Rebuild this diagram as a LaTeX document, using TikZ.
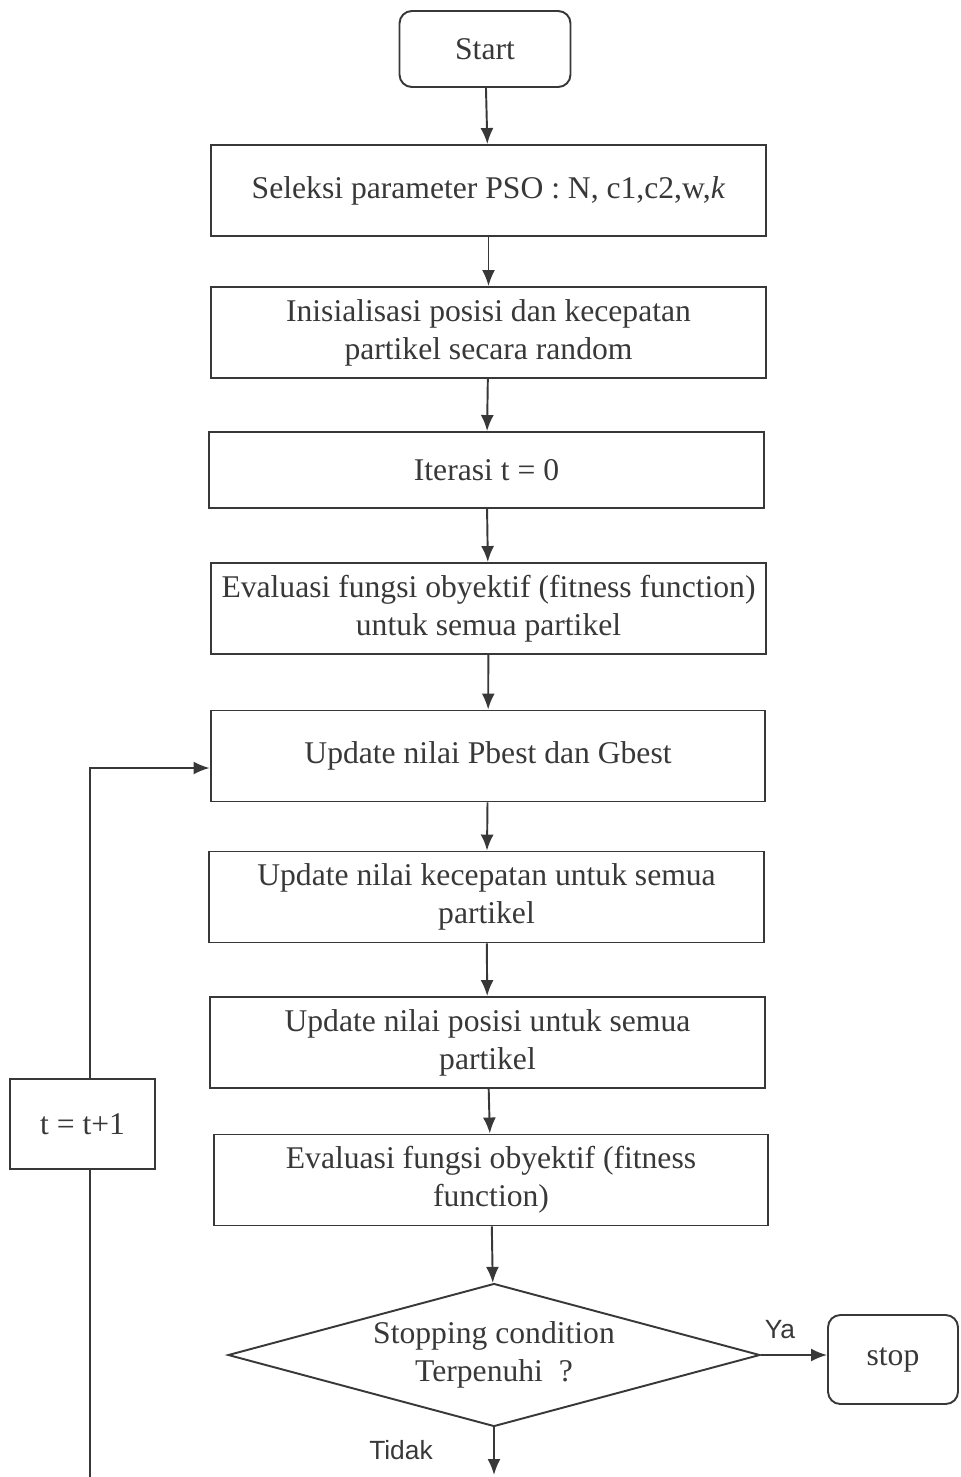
\documentclass[tikz,border=0pt]{standalone}
\usepackage{fontspec}
\setmainfont{Liberation Serif}
\newfontfamily\labelfont{Liberation Sans}
\usetikzlibrary{shapes.geometric,arrows.meta}
\definecolor{ink}{rgb}{0.22,0.22,0.22}
\begin{document}
\begin{tikzpicture}
  [x=0.02cm,y=-0.02cm,
   every node/.style={text=ink,font=\fontsize{18}{21.6}\selectfont},
   procbox/.style={draw=ink,line width=1.1pt,rectangle,minimum width=11.1cm,minimum height=1.82cm,align=center,inner sep=2pt},
   termbox/.style={draw=ink,line width=1.1pt,rectangle,rounded corners=7pt,minimum width=3.42cm,minimum height=1.52cm},
   flow/.style={draw=ink,line width=1.1pt,-{Latex[length=3.2mm,width=2.6mm]}}]
  \useasboundingbox (0,0) rectangle (960,1477);
  \node[termbox] (start) at (485,49) {Start};
  \node[procbox] (sel) at (488.5,190.5) {Seleksi parameter PSO : N, c1,c2,w,\textit{k}};
  \node[procbox] (init) at (488.5,332.5) {Inisialisasi posisi dan kecepatan\\partikel secara random};
  \node[procbox,minimum height=1.52cm] (iter) at (486.5,470) {Iterasi t = 0};
  \node[procbox] (eval1) at (488.5,608.5) {Evaluasi fungsi obyektif (fitness function)\\untuk semua partikel};
  \node[procbox] (pbest) at (488,756) {Update nilai Pbest dan Gbest};
  \node[procbox] (velo) at (486.5,897) {Update nilai kecepatan untuk semua\\partikel};
  \node[procbox] (posi) at (487.5,1042.5) {Update nilai posisi untuk semua\\partikel};
  \node[procbox] (eval2) at (491,1180) {Evaluasi fungsi obyektif (fitness\\function)};
  \node[draw=ink,line width=1.1pt,diamond,aspect=3.72,minimum width=10.64cm,minimum height=2.86cm,inner sep=0pt,align=center] (cond) at (494,1355) {Stopping condition\\Terpenuhi\ \ ?};
  \node[termbox,minimum width=2.6cm,minimum height=1.78cm] (stop) at (893,1359.5) {stop};
  \node[draw=ink,line width=1.1pt,rectangle,minimum width=2.9cm,minimum height=1.8cm] (incr) at (82.5,1124) {t = t+1};
  \node[font=\labelfont\fontsize{15}{17}\selectfont] (ya) at (780,1330) {Ya};
  \node[font=\labelfont\fontsize{15}{17}\selectfont] (tidak) at (401,1450) {Tidak};
  \coordinate (down) at (494,1475);
  \coordinate (back) at (90,1477);
  \coordinate (bend) at (90,768);

  \draw[flow] (start) -- (sel);
  \draw[flow] (sel) -- (init);
  \draw[flow] (init) -- (iter);
  \draw[flow] (iter) -- (eval1);
  \draw[flow] (eval1) -- (pbest);
  \draw[flow] (pbest) -- (velo);
  \draw[flow] (velo) -- (posi);
  \draw[flow] (posi) -- (eval2);
  \draw[flow] (eval2) -- (cond);
  \draw[flow] (cond.east) -- (cond.east -| stop.west);
  \draw[flow] (cond.south) -- (down);
  \draw[draw=ink,line width=1.1pt] (back) -- (incr.south -| back);
  \draw[flow] (incr.north -| bend) -- (bend) -- (bend -| pbest.west);
\end{tikzpicture}
\end{document}
